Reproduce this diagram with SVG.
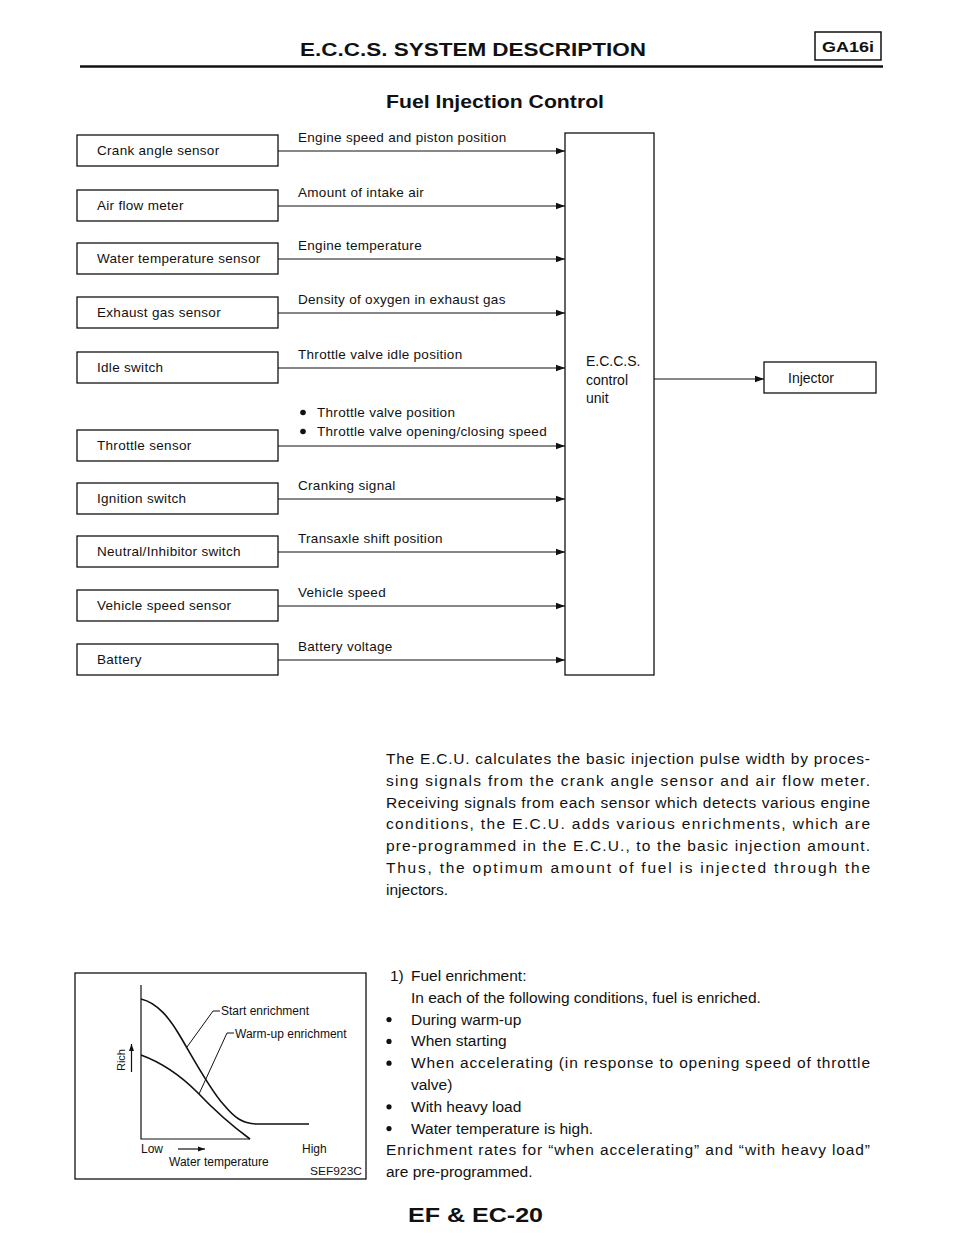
<svg xmlns="http://www.w3.org/2000/svg" width="960" height="1242" viewBox="0 0 960 1242">
<defs>
<marker id="ah" markerWidth="10" markerHeight="8" refX="9" refY="4" orient="auto" markerUnits="userSpaceOnUse">
<path d="M0,0.8 L9,4 L0,7.2 Z" fill="#111"/>
</marker>
<marker id="ahs" markerWidth="8" markerHeight="6" refX="7" refY="3" orient="auto" markerUnits="userSpaceOnUse">
<path d="M0,0.5 L7,3 L0,5.5 Z" fill="#111"/>
</marker>
<style>
text{font-family:"Liberation Sans",Arial,sans-serif;fill:#111}
.box{fill:#fff;stroke:#111;stroke-width:1.3}
.t{font-size:13.5px;letter-spacing:0.3px}
.lbl{font-size:13.5px;letter-spacing:0.3px}
.con{stroke:#111;stroke-width:1.2;fill:none}
.p{font-size:15.5px}
.g{font-size:12px}
.b{font-weight:bold}
</style>
</defs>
<rect width="960" height="1242" fill="#fff"/>

<g id="header">
<text x="300" y="56" class="b" font-size="19" textLength="346" lengthAdjust="spacingAndGlyphs">E.C.C.S. SYSTEM DESCRIPTION</text>
<rect x="815" y="32" width="66" height="28" fill="none" stroke="#111" stroke-width="1.5"/>
<text x="822" y="52" class="b" font-size="15" textLength="52" lengthAdjust="spacingAndGlyphs">GA16i</text>
<line x1="80" y1="66.5" x2="883" y2="66.5" stroke="#111" stroke-width="2.5"/>
<text x="386" y="108" class="b" font-size="19" textLength="218" lengthAdjust="spacingAndGlyphs">Fuel Injection Control</text>
</g>

<g id="n-crank"><rect class="box" x="77" y="135" width="201" height="31"/><text class="t" x="97" y="155">Crank angle sensor</text></g>
<g id="n-airflow"><rect class="box" x="77" y="190" width="201" height="31"/><text class="t" x="97" y="210">Air flow meter</text></g>
<g id="n-water"><rect class="box" x="77" y="243" width="201" height="31"/><text class="t" x="97" y="263">Water temperature sensor</text></g>
<g id="n-exhaust"><rect class="box" x="77" y="297" width="201" height="31"/><text class="t" x="97" y="317">Exhaust gas sensor</text></g>
<g id="n-idle"><rect class="box" x="77" y="352" width="201" height="31"/><text class="t" x="97" y="372">Idle switch</text></g>
<g id="n-throttle"><rect class="box" x="77" y="430" width="201" height="31"/><text class="t" x="97" y="450">Throttle sensor</text></g>
<g id="n-ignition"><rect class="box" x="77" y="483" width="201" height="31"/><text class="t" x="97" y="503">Ignition switch</text></g>
<g id="n-neutral"><rect class="box" x="77" y="536" width="201" height="31"/><text class="t" x="97" y="556">Neutral/Inhibitor switch</text></g>
<g id="n-vss"><rect class="box" x="77" y="590" width="201" height="31"/><text class="t" x="97" y="610">Vehicle speed sensor</text></g>
<g id="n-battery"><rect class="box" x="77" y="644" width="201" height="31"/><text class="t" x="97" y="664">Battery</text></g>

<g id="n-ecu"><rect class="box" x="565" y="133" width="89" height="542"/>
<text x="586" y="366" font-size="14">E.C.C.S.</text>
<text x="586" y="385" font-size="14">control</text>
<text x="586" y="403" font-size="14">unit</text></g>

<g id="n-injector"><rect class="box" x="764" y="362" width="112" height="31"/><text x="788" y="383" font-size="14">Injector</text></g>

<g id="connectors">
<line class="con" x1="278" y1="151" x2="565" y2="151" marker-end="url(#ah)"/>
<line class="con" x1="278" y1="206" x2="565" y2="206" marker-end="url(#ah)"/>
<line class="con" x1="278" y1="259" x2="565" y2="259" marker-end="url(#ah)"/>
<line class="con" x1="278" y1="313" x2="565" y2="313" marker-end="url(#ah)"/>
<line class="con" x1="278" y1="368" x2="565" y2="368" marker-end="url(#ah)"/>
<line class="con" x1="278" y1="446" x2="565" y2="446" marker-end="url(#ah)"/>
<line class="con" x1="278" y1="499" x2="565" y2="499" marker-end="url(#ah)"/>
<line class="con" x1="278" y1="552" x2="565" y2="552" marker-end="url(#ah)"/>
<line class="con" x1="278" y1="606" x2="565" y2="606" marker-end="url(#ah)"/>
<line class="con" x1="278" y1="660" x2="565" y2="660" marker-end="url(#ah)"/>
<line class="con" x1="654" y1="379" x2="764" y2="379" marker-end="url(#ah)"/>
<text class="lbl" x="298" y="142">Engine speed and piston position</text>
<text class="lbl" x="298" y="197">Amount of intake air</text>
<text class="lbl" x="298" y="250">Engine temperature</text>
<text class="lbl" x="298" y="304">Density of oxygen in exhaust gas</text>
<text class="lbl" x="298" y="359">Throttle valve idle position</text>
<circle cx="303" cy="412.5" r="2.8" fill="#111"/>
<text class="lbl" x="317" y="417">Throttle valve position</text>
<circle cx="303" cy="431.5" r="2.8" fill="#111"/>
<text class="lbl" x="317" y="436">Throttle valve opening/closing speed</text>
<text class="lbl" x="298" y="490">Cranking signal</text>
<text class="lbl" x="298" y="543">Transaxle shift position</text>
<text class="lbl" x="298" y="597">Vehicle speed</text>
<text class="lbl" x="298" y="651">Battery voltage</text>
</g>

<g id="paragraph">
<text class="p" x="386" y="764" textLength="484" lengthAdjust="spacing">The E.C.U. calculates the basic injection pulse width by proces-</text>
<text class="p" x="386" y="785.8" textLength="484" lengthAdjust="spacing">sing signals from the crank angle sensor and air flow meter.</text>
<text class="p" x="386" y="807.6" textLength="484" lengthAdjust="spacing">Receiving signals from each sensor which detects various engine</text>
<text class="p" x="386" y="829.4" textLength="484" lengthAdjust="spacing">conditions, the E.C.U. adds various enrichments, which are</text>
<text class="p" x="386" y="851.2" textLength="484" lengthAdjust="spacing">pre-programmed in the E.C.U., to the basic injection amount.</text>
<text class="p" x="386" y="873" textLength="484" lengthAdjust="spacing">Thus, the optimum amount of fuel is injected through the</text>
<text class="p" x="386" y="894.8">injectors.</text>
</g>

<g id="graph">
<rect x="75" y="973" width="291" height="206" fill="none" stroke="#111" stroke-width="1.3"/>
<polyline points="141,985 141,1139 250,1139" fill="none" stroke="#111" stroke-width="1.2"/>
<path d="M141,999 C158,1003 170,1019 180,1036 C192,1056 210,1090 224,1105 C234,1117 242,1124 258,1124 L309,1124" fill="none" stroke="#111" stroke-width="1.6"/>
<path d="M141,1055 C160,1062 180,1075 197,1092 C215,1111 235,1128 250,1139" fill="none" stroke="#111" stroke-width="1.6"/>
<polyline points="187,1047 213,1011 220,1011" fill="none" stroke="#111" stroke-width="1"/>
<polyline points="199,1094 227,1033 234,1033" fill="none" stroke="#111" stroke-width="1"/>
<text class="g" x="221" y="1015">Start enrichment</text>
<text class="g" x="235" y="1037.5">Warm-up enrichment</text>
<text x="125" y="1060" font-size="11" text-anchor="middle" transform="rotate(-90 125 1060)">Rich</text>
<line x1="131.5" y1="1072" x2="131.5" y2="1044" stroke="#111" stroke-width="1.2" marker-end="url(#ahs)"/>
<text class="g" x="141" y="1153">Low</text>
<line x1="178" y1="1149" x2="205" y2="1149" stroke="#111" stroke-width="1.2" marker-end="url(#ahs)"/>
<text class="g" x="302" y="1153">High</text>
<text class="g" x="169" y="1166">Water temperature</text>
<text x="310" y="1175" font-size="11" textLength="52" lengthAdjust="spacingAndGlyphs">SEF923C</text>
</g>

<g id="list">
<text class="p" x="390" y="981">1)</text>
<text class="p" x="411" y="981">Fuel enrichment:</text>
<text class="p" x="411" y="1002.8">In each of the following conditions, fuel is enriched.</text>
<circle cx="389" cy="1019.6" r="2.6" fill="#111"/>
<text class="p" x="411" y="1024.6">During warm-up</text>
<circle cx="389" cy="1041.4" r="2.6" fill="#111"/>
<text class="p" x="411" y="1046.4">When starting</text>
<circle cx="389" cy="1063.2" r="2.6" fill="#111"/>
<text class="p" x="411" y="1068.2" textLength="459" lengthAdjust="spacing">When accelerating (in response to opening speed of throttle</text>
<text class="p" x="411" y="1090">valve)</text>
<circle cx="389" cy="1106.8" r="2.6" fill="#111"/>
<text class="p" x="411" y="1111.8">With heavy load</text>
<circle cx="389" cy="1128.6" r="2.6" fill="#111"/>
<text class="p" x="411" y="1133.6">Water temperature is high.</text>
<text class="p" x="386" y="1155.4" textLength="484" lengthAdjust="spacing">Enrichment rates for “when accelerating” and “with heavy load”</text>
<text class="p" x="386" y="1177.2">are pre-programmed.</text>
</g>

<g id="footer">
<text x="408" y="1222" class="b" font-size="21" textLength="135" lengthAdjust="spacingAndGlyphs">EF &amp; EC-20</text>
</g>
</svg>
